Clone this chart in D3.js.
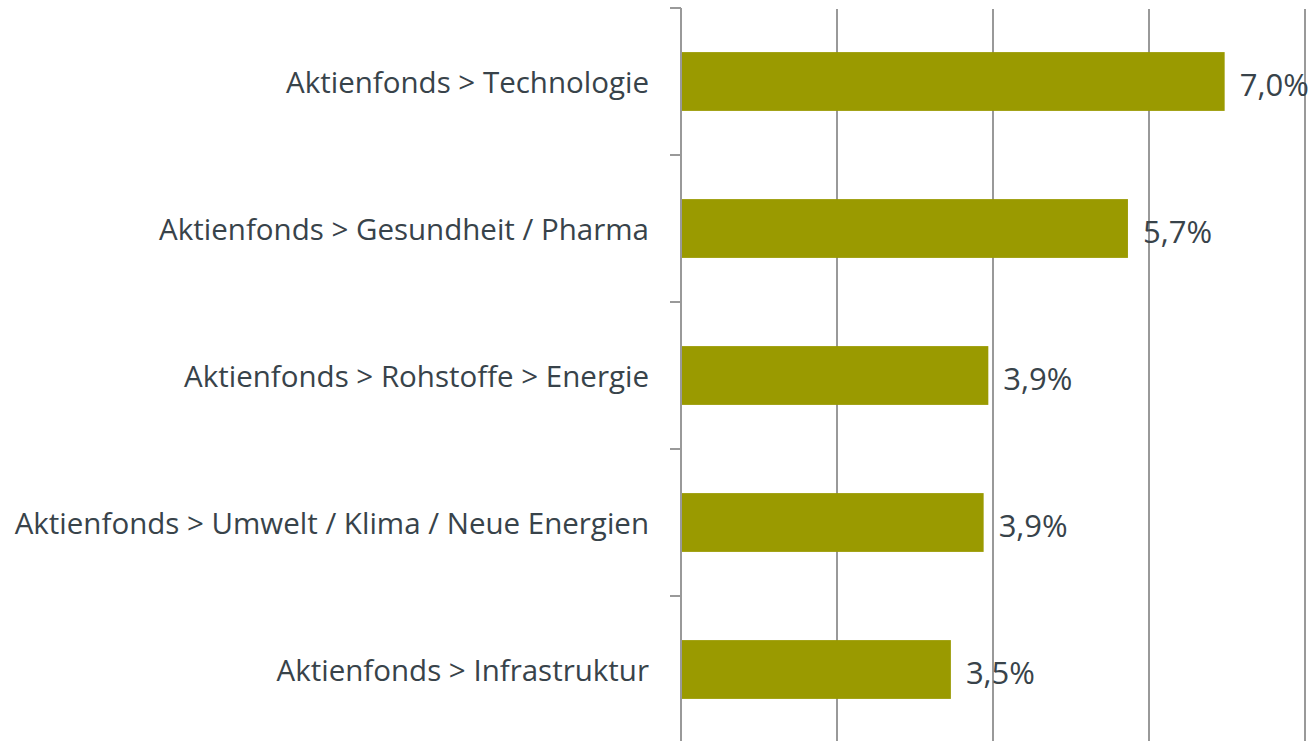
<!DOCTYPE html>
<html>
<head>
<meta charset="utf-8">
<script src="https://cdn.jsdelivr.net/npm/d3@7"></script>
<style>
  body { margin: 0; background: #fff; }
  text { font-family: "Open Sans", sans-serif; fill: #38434a; }
</style>
</head>
<body>
<div id="chart"></div>
<script>
// Data
const categories = [
  "Aktienfonds > Technologie",
  "Aktienfonds > Gesundheit / Pharma",
  "Aktienfonds > Rohstoffe > Energie",
  "Aktienfonds > Umwelt / Klima / Neue Energien",
  "Aktienfonds > Infrastruktur"
];
const values = [6.97, 5.73, 3.94, 3.88, 3.46];
const xTicks = [0, 2, 4, 6, 8];

// Dimensions
const totalWidth = 1310, totalHeight = 741;
const margin = { top: 8, right: 5, bottom: -2, left: 681 };
const width = totalWidth - margin.left - margin.right;
const height = totalHeight - margin.top - margin.bottom;

const svg = d3.select("#chart").append("svg")
  .attr("width", totalWidth)
  .attr("height", totalHeight)
  .append("g")
  .attr("transform", `translate(${margin.left},${margin.top})`);

// Scales
const x = d3.scaleLinear().domain([0, 8]).range([0, width]);
const y = d3.scaleBand().domain(categories).range([0, height])
  .paddingInner(0.6).paddingOuter(0.3);

// Gridlines
svg.selectAll(".grid")
  .data(xTicks.slice(1))
  .enter()
  .append("line")
  .attr("x1", d => x(d))
  .attr("x2", d => x(d))
  .attr("y1", 1)
  .attr("y2", height)
  .attr("stroke", "#999")
  .attr("stroke-width", 2);

// Bars
svg.selectAll(".bar")
  .data(values)
  .enter()
  .append("rect")
  .attr("x", 0)
  .attr("y", (d, i) => y(categories[i]))
  .attr("width", d => x(d))
  .attr("height", y.bandwidth())
  .attr("fill", "#9a9a00");

// Left axis: ticks on band boundaries
const step = y.step();
const boundaries = d3.range(categories.length + 1).map(i => i * step);
svg.append("line")
  .attr("x1", 0).attr("x2", 0)
  .attr("y1", 0).attr("y2", height)
  .attr("stroke", "#999")
  .attr("stroke-width", 2);
svg.selectAll(".tick")
  .data(boundaries)
  .enter()
  .append("line")
  .attr("x1", -11).attr("x2", 0)
  .attr("y1", d => d).attr("y2", d => d)
  .attr("stroke", "#999")
  .attr("stroke-width", 2);

// Category labels
svg.selectAll(".cat")
  .data(categories)
  .enter()
  .append("text")
  .attr("x", -32)
  .attr("y", d => y(d) + y.bandwidth() / 2)
  .attr("text-anchor", "end")
  .attr("dominant-baseline", "central")
  .style("font-size", "29.5px")
  .text(d => d);

// Value labels
const fmt = d => d.toFixed(1).replace(".", ",") + "%";
svg.selectAll(".val")
  .data(values)
  .enter()
  .append("text")
  .attr("x", d => x(d) + 15)
  .attr("y", (d, i) => y(categories[i]) + y.bandwidth() / 2 + 2)
  .attr("dominant-baseline", "central")
  .style("font-size", "31px")
  .text(fmt);
</script>
</body>
</html>
